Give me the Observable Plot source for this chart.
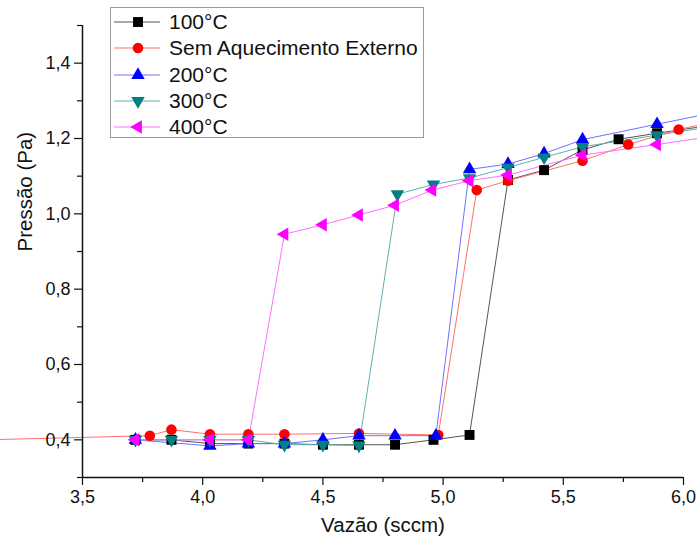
<!DOCTYPE html>
<html><head><meta charset="utf-8">
<script src="https://cdn.jsdelivr.net/npm/d3@7"></script>
<script src="https://cdn.jsdelivr.net/npm/@observablehq/plot@0.6"></script>
<style>
body{margin:0;background:#fff;}
#wrap{position:relative;width:697px;height:548px;font-family:"Liberation Sans",Arial,sans-serif;}
#legend{position:absolute;left:110px;top:7px;width:314px;height:131px;border:1px solid #9a9a9a;background:#fff;box-sizing:border-box;}
.row{position:absolute;left:2px;height:26px;display:flex;align-items:center;font-size:21px;color:#111;white-space:nowrap;}
.row svg{margin-right:8px;}
</style></head><body><div id="wrap"><div id="legend"></div></div>
<script>
// ---- data ----
const seriesNames = ["100°C", "Sem Aquecimento Externo", "200°C", "300°C", "400°C"];
const markerColors = ["#000000", "#ff0000", "#0000ff", "#008080", "#ff00ff"];
const lineColors = ["#555555", "#ff7070", "#7070ff", "#60b0b0", "#ff70ff"];
const markerKinds = ["square", "circle", "up", "down", "left"];

const x100 = [3.72, 3.87, 4.03, 4.19, 4.34, 4.50, 4.65, 4.80, 4.96, 5.11, 5.27, 5.42, 5.58, 5.73, 5.89, 6.06];
const y100 = [0.40, 0.40, 0.39, 0.39, 0.39, 0.387, 0.387, 0.387, 0.40, 0.413, 1.09, 1.116, 1.17, 1.198, 1.214, 1.23];

const xSem = [3.10, 3.78, 3.87, 4.03, 4.19, 4.34, 4.65, 4.98, 5.14, 5.27, 5.58, 5.77, 5.98, 6.06];
const ySem = [0.40, 0.411, 0.427, 0.415, 0.415, 0.415, 0.417, 0.413, 1.063, 1.088, 1.141, 1.184, 1.224, 1.235];

const x200 = [3.72, 4.03, 4.19, 4.34, 4.50, 4.65, 4.80, 4.97, 5.11, 5.27, 5.42, 5.58, 5.89, 6.06];
const y200 = [0.40, 0.384, 0.39, 0.39, 0.40, 0.411, 0.411, 0.411, 1.118, 1.132, 1.16, 1.197, 1.238, 1.26];

const x300 = [3.72, 3.87, 4.03, 4.19, 4.34, 4.50, 4.65, 4.81, 4.96, 5.11, 5.27, 5.42, 5.58, 5.89, 6.06];
const y300 = [0.40, 0.40, 0.40, 0.40, 0.387, 0.387, 0.385, 1.052, 1.078, 1.095, 1.123, 1.15, 1.178, 1.209, 1.226];

const x400 = [3.72, 4.03, 4.19, 4.34, 4.50, 4.65, 4.80, 4.955, 5.11, 5.27, 5.58, 5.89, 6.06];
const y400 = [0.40, 0.40, 0.40, 0.946, 0.971, 0.997, 1.023, 1.063, 1.088, 1.103, 1.156, 1.184, 1.20];

const xTicks = [3.5, 4.0, 4.5, 5.0, 5.5, 6.0];
const xMinor = [3.75, 4.25, 4.75, 5.25, 5.75];
const yTicks = [0.4, 0.6, 0.8, 1.0, 1.2, 1.4];
const yMinor = [0.3, 0.5, 0.7, 0.9, 1.1, 1.3, 1.5];
const xTitle = "Vazão (sccm)";
const yTitle = "Pressão (Pa)";

// ---- build ----
const xsAll = [x100, xSem, x200, x300, x400];
const ysAll = [y100, ySem, y200, y300, y400];
const seriesRows = xsAll.map((xs, i) => xs.map((x, j) => ({x, y: ysAll[i][j], s: seriesNames[i]})));

const sqrt3 = Math.sqrt(3);
function tri(dir) {
  return {draw(ctx, size) {
    const y = -Math.sqrt(size / (sqrt3 * 3));
    let pts = [[0, 2 * y], [-sqrt3 * y, -y], [sqrt3 * y, -y]];
    if (dir === "down") pts = pts.map(([a, b]) => [a, -b]);
    if (dir === "left") pts = pts.map(([a, b]) => [b, a]);
    ctx.moveTo(pts[0][0], pts[0][1]);
    ctx.lineTo(pts[1][0], pts[1][1]);
    ctx.lineTo(pts[2][0], pts[2][1]);
    ctx.closePath();
  }};
}
const symbolFor = k => k === "square" ? "square" : k === "circle" ? "circle" : tri(k);
const radiusFor = k => k === "square" ? 5.6 : k === "circle" ? 5.3 : 5.0;

const fmt = d => d3.format(".1f")(d).replace(".", ",");
const inDomain = d => d.x >= 3.5 && d.x <= 6.0;

const marks = [];
seriesRows.forEach((rows, i) => {
  marks.push(Plot.line(rows, {x: "x", y: "y", stroke: lineColors[i], strokeWidth: 1}));
});
seriesRows.forEach((rows, i) => {
  marks.push(Plot.dot(rows.filter(inDomain), {x: "x", y: "y", fill: markerColors[i], stroke: "none",
    symbol: symbolFor(markerKinds[i]), r: radiusFor(markerKinds[i])}));
});

const chart = Plot.plot({
  width: 697, height: 548,
  marginLeft: 82, marginRight: 14, marginTop: 25, marginBottom: 71,
  style: {fontFamily: '"Liberation Sans", Arial, sans-serif', color: "#111", background: "transparent"},
  x: {domain: [3.5, 6.0]},
  y: {domain: [0.3, 1.5]},
  marks: [
    ...marks,
    Plot.axisX(xTicks, {tickSize: 8, tickPadding: 5, tickFormat: fmt, fontSize: 18, label: null, stroke: "#111", strokeWidth: 1.2}),
    Plot.axisX(xMinor, {tickSize: 5, tickFormat: () => "", label: null, stroke: "#111", strokeWidth: 1.2}),
    Plot.axisY(yTicks, {tickSize: 8, tickPadding: 4, tickFormat: fmt, fontSize: 18, label: null, stroke: "#111", strokeWidth: 1.2}),
    Plot.axisY(yMinor, {tickSize: 5, tickFormat: () => "", label: null, stroke: "#111", strokeWidth: 1.2}),
    Plot.ruleX([3.5], {stroke: "#111", strokeWidth: 1.5}),
    Plot.ruleY([0.3], {stroke: "#111", strokeWidth: 1.5}),
    Plot.text([yTitle], {text: d => d, frameAnchor: "left", dx: -57, rotate: -90, fontSize: 20.5, fill: "#111"}),
    Plot.text([xTitle], {text: d => d, frameAnchor: "bottom", dy: 54, fontSize: 20.5, fill: "#111"})
  ]
});
const wrap = document.getElementById("wrap");
wrap.insertBefore(chart, wrap.firstChild);

// ---- legend ----
const legend = document.getElementById("legend");
seriesNames.forEach((name, i) => {
  const row = document.createElement("div");
  row.className = "row";
  row.style.top = (1 + i * 26.3) + "px";
  const svg = d3.create("svg").attr("width", 48).attr("height", 26);
  svg.append("line").attr("x1", 1).attr("x2", 47).attr("y1", 13).attr("y2", 13)
    .attr("stroke", lineColors[i]).attr("stroke-width", 1);
  const r = radiusFor(markerKinds[i]);
  const sym = symbolFor(markerKinds[i]);
  const d3sym = sym === "square" ? d3.symbolSquare : sym === "circle" ? d3.symbolCircle : sym;
  svg.append("path").attr("transform", "translate(25,13)")
    .attr("d", d3.symbol(d3sym, Math.PI * r * r)()).attr("fill", markerColors[i]);
  row.appendChild(svg.node());
  const span = document.createElement("span");
  span.textContent = name;
  row.appendChild(span);
  legend.appendChild(row);
});
</script>
</body></html>
